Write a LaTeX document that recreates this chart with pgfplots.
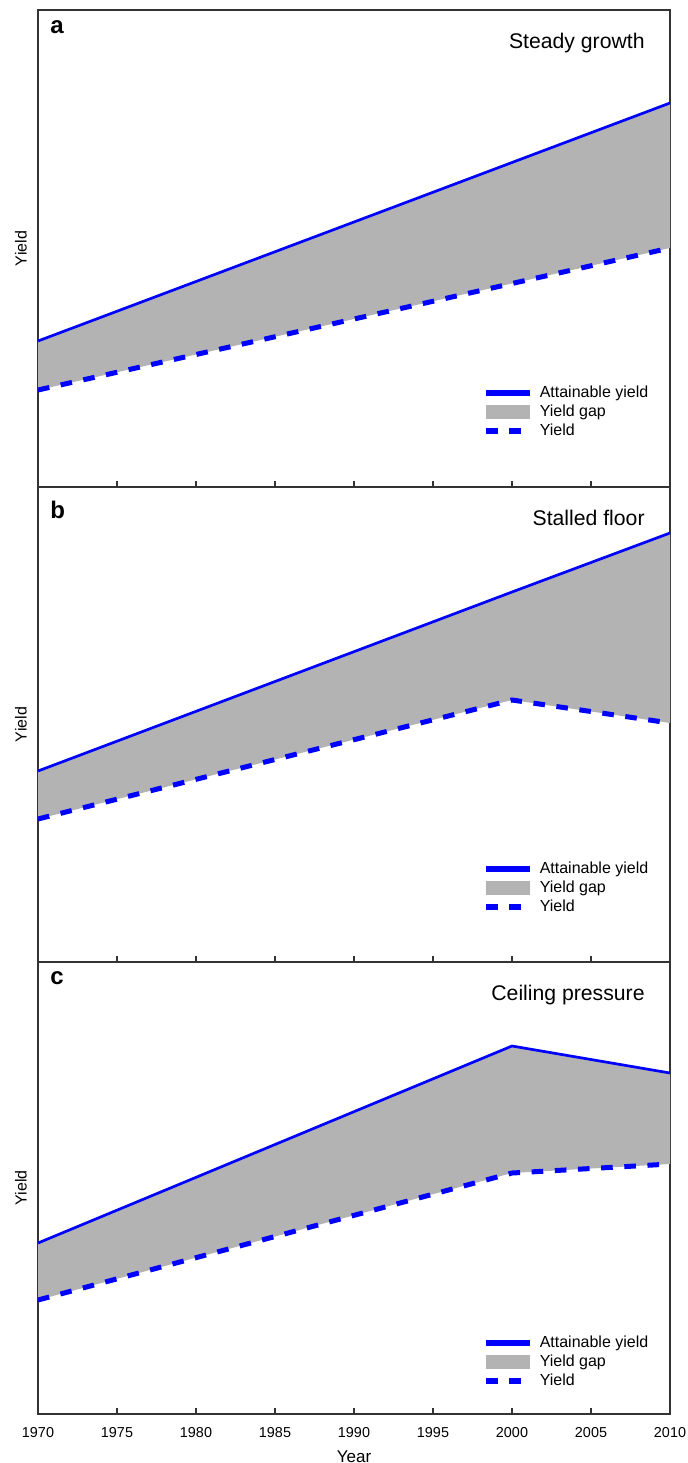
\documentclass[border=0pt]{standalone}
\usepackage{fontspec}
\setmainfont{Liberation Sans}
\usepackage{pgfplots}
\pgfplotsset{compat=1.18}
\usepgfplotslibrary{fillbetween}

\definecolor{gapgray}{RGB}{179,179,179}
\definecolor{lineblue}{RGB}{0,0,255}

% 1 px of the reference = 0.5pt
\pgfplotsset{
  panel/.style={
    scale only axis, width=316pt, anchor=north west,
    xmin=1970, xmax=2010, ymin=0,
    xtick={1970,1975,1980,1985,1990,1995,2000,2005,2010},
    xtick pos=lower, tick align=inside, major tick length=3pt,
    ytick=\empty, xticklabels={},
    axis line style={line width=0.6pt, black!80},
    every tick/.style={line width=0.6pt, black!80},
    ylabel={Yield},
    ylabel style={at={(axis description cs:-0.027,0.5)}, anchor=center,
      font=\fontsize{8}{9}\selectfont},
    legend cell align=left,
    legend style={draw=none, fill=none, inner sep=0pt, outer sep=0pt,
      anchor=north west, column sep=3pt, row sep=1pt,
      font=\fontsize{8}{9}\selectfont,
      nodes={inner sep=0.5pt, text height=5.8pt, text depth=1.7pt}},
  },
  legline/.style={legend image code/.code={\draw[##1] (0pt,0pt) -- (22pt,0pt);}},
  legdash/.style={legend image code/.code={\draw[##1] (0pt,0pt) -- (17.5pt,0pt);}},
  legbox/.style={legend image code/.code={\fill[##1] (0pt,-3.6pt) rectangle (22pt,3.6pt);}},
  attain/.style={lineblue, line width=1.35pt},
  yld/.style={lineblue, line width=2.5pt, dash pattern=on 5.8pt off 5.8pt},
  gapfill/.style={fill=gapgray, draw=none},
}

\newcommand{\panellegend}{%
  \addlegendimage{lineblue, line width=2.6pt, legline}
  \addlegendentry{Attainable yield}
  \addlegendimage{fill=gapgray, draw=none, legbox}
  \addlegendentry{Yield gap}
  \addlegendimage{lineblue, line width=2.6pt, dash pattern=on 6pt off 5.5pt, legdash}
  \addlegendentry{Yield}
}

\newcommand{\paneltext}[3]{%
  \node[anchor=base west, inner sep=0pt, xshift=6pt, yshift=#2,
    font=\fontsize{12}{14}\selectfont\bfseries] at (rel axis cs:0,1) {#1};
  \node[anchor=base east, inner sep=0pt, xshift=-12.5pt, yshift=-19pt,
    font=\fontsize{10.6}{12}\selectfont] at (rel axis cs:1,1) {#3};
}

\begin{document}
\begin{tikzpicture}

% a: steady growth
\begin{axis}[panel, at={(19pt,-5pt)}, height=238.5pt, ymax=477,
  legend style={at={(axis cs:1998.2,102.5)}}]
  \panellegend
  \addplot[attain, name path=att, forget plot] coordinates {(1970,146) (2010,384)};
  \addplot[yld, name path=yl, forget plot] coordinates {(1970,97) (2010,239)};
  \addplot[gapfill, forget plot] fill between[of=att and yl];
  \paneltext{a}{-11.5pt}{Steady growth}
\end{axis}

% b: stalled floor
\begin{axis}[panel, at={(19pt,-243.5pt)}, height=237.5pt, ymax=475,
  legend style={at={(axis cs:1998.2,101.5)}}]
  \panellegend
  \addplot[attain, name path=att, forget plot] coordinates {(1970,191) (2000,370) (2010,429)};
  \addplot[yld, name path=yl, forget plot] coordinates {(1970,143) (2000,262) (2010,239)};
  \addplot[gapfill, forget plot] fill between[of=att and yl];
  \paneltext{b}{-15.5pt}{Stalled floor}
\end{axis}

% c: ceiling pressure
\begin{axis}[panel, at={(19pt,-481pt)}, height=226pt, ymax=452,
  xticklabels={1970,1975,1980,1985,1990,1995,2000,2005,2010},
  xticklabel style={font=\fontsize{7.2}{8}\selectfont, yshift=-3pt},
  xlabel={Year},
  xlabel style={at={(axis description cs:0.5,0)}, anchor=base, yshift=-24pt,
    font=\fontsize{8.5}{10}\selectfont},
  legend style={at={(axis cs:1998.2,79.5)}}]
  \panellegend
  \addplot[attain, name path=att, forget plot] coordinates {(1970,171) (2000,368) (2010,341)};
  \addplot[yld, name path=yl, forget plot] coordinates {(1970,114) (2000,241) (2010,250)};
  \addplot[gapfill, forget plot] fill between[of=att and yl];
  \paneltext{c}{-11pt}{Ceiling pressure}
\end{axis}

\pgfresetboundingbox
\path[use as bounding box] (0pt,0pt) rectangle (343.5pt,-731.5pt);
\end{tikzpicture}
\end{document}
